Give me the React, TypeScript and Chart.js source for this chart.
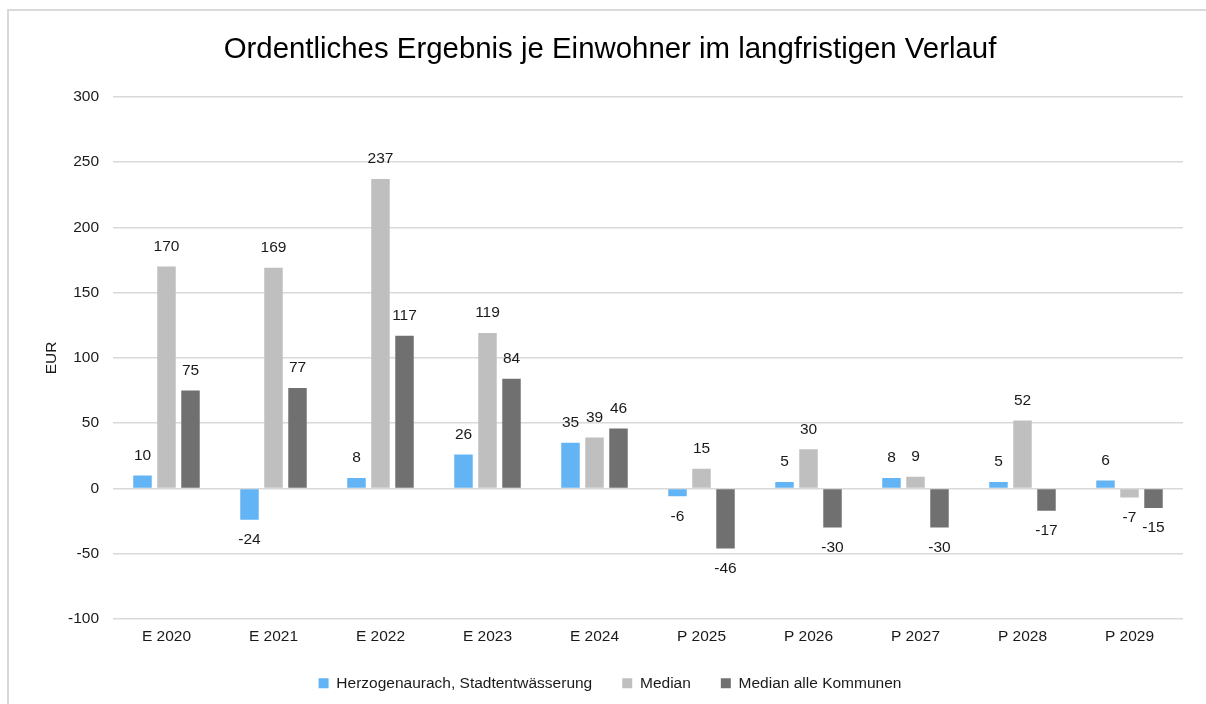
import React, { useEffect, useRef } from "react";
import { Chart, registerables } from "chart.js";

Chart.register(...registerables);

const categories = ["E 2020", "E 2021", "E 2022", "E 2023", "E 2024", "P 2025", "P 2026", "P 2027", "P 2028", "P 2029"];
const herzogenaurach = [10, -24, 8, 26, 35, -6, 5, 8, 5, 6];
const median = [170, 169, 237, 119, 39, 15, 30, 9, 52, -7];
const medianAlle = [75, 77, 117, 84, 46, -46, -30, -30, -17, -15];
const seriesNames = ["Herzogenaurach, Stadtentwässerung", "Median", "Median alle Kommunen"];
const seriesColors = ["#63B4F5", "#BFBFBF", "#707070"];
const titleText = "Ordentliches Ergebnis je Einwohner im langfristigen Verlauf";
const yTitle = "EUR";

const FONT = "'Liberation Sans', Arial, sans-serif";
const SMALL = 15.5;

const valueLabels = {
  id: "valueLabels",
  afterDatasetsDraw(chart: any) {
    const ctx = chart.ctx;
    ctx.save();
    ctx.font = `${SMALL}px ${FONT}`;
    ctx.fillStyle = "#1a1a1a";
    ctx.textAlign = "center";
    ctx.textBaseline = "middle";
    chart.data.datasets.forEach((ds: any, di: number) => {
      const meta = chart.getDatasetMeta(di);
      meta.data.forEach((bar: any, i: number) => {
        const v = ds.data[i];
        const y = v >= 0 ? bar.y - 20 : bar.y + 20;
        ctx.fillText(String(v), bar.x, y);
      });
    });
    ctx.restore();
  },
};

export default function App() {
  const ref = useRef<HTMLCanvasElement | null>(null);
  useEffect(() => {
    if (!ref.current) return;
    const chart = new Chart(ref.current, {
      type: "bar",
      data: {
        labels: categories,
        datasets: [herzogenaurach, median, medianAlle].map((d, i) => ({
          label: seriesNames[i],
          data: d,
          backgroundColor: seriesColors[i],
          borderWidth: 0,
          categoryPercentage: 0.673,
          barPercentage: 0.77,
        })),
      },
      options: {
        responsive: false,
        animation: false,
        layout: { padding: { left: 37, right: 23, top: 10, bottom: 3 } },
        plugins: {
          title: {
            display: true,
            text: titleText,
            color: "#000",
            font: { family: FONT, size: 29.4, weight: "normal" },
            padding: { top: 22, bottom: 29.5 },
          },
          legend: {
            position: "bottom",
            labels: {
              boxWidth: 10,
              boxHeight: 10,
              padding: 30,
              color: "#1a1a1a",
              font: { family: FONT, size: SMALL },
            },
          },
          tooltip: { enabled: false },
        },
        scales: {
          x: {
            grid: { display: false, drawTicks: false },
            border: { display: false },
            ticks: { color: "#1a1a1a", font: { family: FONT, size: SMALL }, padding: 8, maxRotation: 0 },
            afterFit: (s: any) => { s.height = 26.5; },
          },
          y: {
            min: -100,
            max: 300,
            ticks: { stepSize: 50, color: "#1a1a1a", font: { family: FONT, size: SMALL }, padding: 14 },
            grid: { color: "#D9D9D9", lineWidth: 1.5, drawTicks: false },
            border: { display: false },
            title: {
              display: true,
              text: yTitle,
              color: "#1a1a1a",
              font: { family: FONT, size: SMALL },
              padding: { top: 5, bottom: 0 },
            },
            afterFit: (s: any) => { s.width = 76; },
          },
        },
      },
      plugins: [valueLabels],
    });
    return () => chart.destroy();
  }, []);
  return (
    <div style={{ position: "absolute", left: 0, top: 0, width: 1206, height: 704, background: "#fff" }}>
      <canvas ref={ref} width={1206} height={704} style={{ position: "absolute", left: 0, top: 0 }} />
      <div
        style={{
          position: "absolute",
          left: 7,
          top: 9,
          width: 1199,
          height: 695,
          borderLeft: "2px solid #D9D9D9",
          borderTop: "2px solid #D9D9D9",
          pointerEvents: "none",
          boxSizing: "border-box",
        }}
      />
    </div>
  );
}
